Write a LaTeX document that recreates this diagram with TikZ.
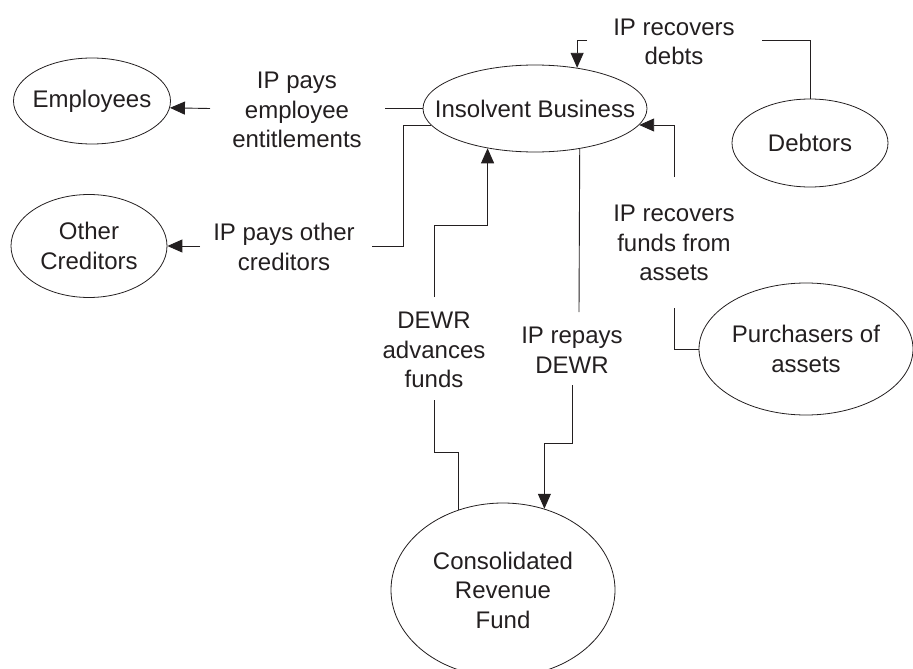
\documentclass[tikz,border=0pt]{standalone}
\usepackage{fontspec}
\setmainfont{Liberation Sans}
\usetikzlibrary{shapes.geometric,arrows.meta}
\definecolor{ink}{HTML}{231F20}
\begin{document}
\begin{tikzpicture}[x=1pt,y=-1pt,
  entity/.style={draw=ink, line width=0.8pt, ellipse, inner sep=0pt},
  txt/.style={text=ink, align=center, inner sep=0pt, font=\fontsize{24}{29.5}\selectfont},
  flow/.style={draw=ink, line width=0.9pt},
  arr/.style={flow, -{Triangle[length=15pt,width=13pt]}}]
\useasboundingbox (0,0) rectangle (913,669);

% entities
\node[entity, minimum width=224pt, minimum height=87pt]  (ib)  at (535,108.5) {};
\node[entity, minimum width=157pt, minimum height=86pt]  (emp) at (92,101) {};
\node[entity, minimum width=156pt, minimum height=103pt] (oc)  at (89,246) {};
\node[entity, minimum width=156pt, minimum height=88pt]  (deb) at (810,143) {};
\node[entity, minimum width=214pt, minimum height=132pt] (pur) at (806,349) {};
\node[entity, minimum width=224pt, minimum height=174pt] (crf) at (503,590) {};

\node[txt] (ibt)  at (ib)  {Insolvent Business};
\node[txt] (empt) at (emp) {Employees};
\node[txt] (oct)  at (oc)  {Other\\Creditors};
\node[txt] (debt) at (deb) {Debtors};
\node[txt] (purt) at (pur) {Purchasers of\\assets};
\node[txt] (crft) at (crf) {Consolidated\\Revenue\\Fund};

% flow labels
\node[txt] (l1) at (297,110) {IP pays\\employee\\entitlements};
\node[txt] (l2) at (284,247) {IP pays other\\creditors};
\node[txt] (l3) at (674,42)  {IP recovers\\debts};
\node[txt] (l4) at (674,243) {IP recovers\\funds from\\assets};
\node[txt] (l5) at (434,350) {DEWR\\advances\\funds};
\node[txt] (l6) at (572,350) {IP repays\\DEWR};

% bend and break points of the flows
\coordinate (e1) at (385,108.5);
\coordinate (e2) at (210,108.5);
\coordinate (o1) at (403,246);
\coordinate (o2) at (372,246);
\coordinate (o3) at (200,246);
\coordinate (d1) at (587,40);
\coordinate (d2) at (762,40);
\coordinate (f1) at (674,177);
\coordinate (f2) at (674,308);
\coordinate (a1) at (434,297);
\coordinate (a1b) at (434,225);
\coordinate (a2) at (434,400);
\coordinate (a2b) at (434,452);
\coordinate (r0) at (579,312);
\coordinate (r1) at (572,385);
\coordinate (r1b) at (572,443);

% employees
\draw[flow] (ib.west) -- (e1);
\draw[arr] (e2) -- (emp.-5.5);
% other creditors
\draw[flow] (ib.189) -| (o1) -- (o2);
\draw[arr] (o3) -- (oc.east);
% debtors
\draw[arr] (d1) -| (ib.44.6);
\draw[flow] (d2) -| (deb.north);
% purchasers of assets
\draw[arr] (f1) |- (ib.-9);
\draw[flow] (f2) |- (pur.west);
% DEWR advances
\draw[arr] (a1) -- (a1b) -| (ib.220);
\draw[flow] (a2) -- (a2b) -| (crf.119.5);
% IP repays DEWR
\draw[flow] (ib.-42.3) -- (r0);
\draw[arr] (r1) -- (r1b) -| (crf.63.1);
\end{tikzpicture}
\end{document}
